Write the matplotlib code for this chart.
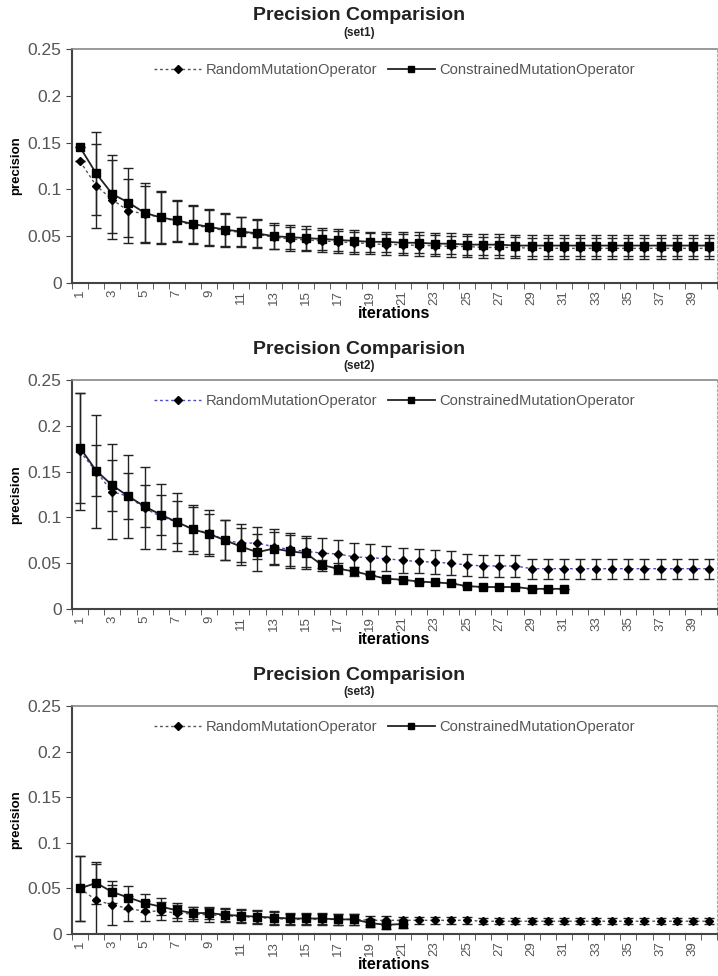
import numpy as np
import matplotlib
matplotlib.use("Agg")
import matplotlib.pyplot as plt
from matplotlib.lines import Line2D

plt.rcParams['font.family'] = ['Liberation Sans', 'DejaVu Sans']

iterations = list(range(1, 41))
tick_labels = [str(i) for i in range(1, 41, 2)]

# set1
set1_random = [0.130, 0.104, 0.089, 0.077, 0.074, 0.070, 0.066, 0.062, 0.059, 0.056,
               0.054, 0.052, 0.049, 0.047, 0.046, 0.045, 0.044, 0.043, 0.042, 0.041,
               0.041, 0.040, 0.040, 0.039, 0.039, 0.038, 0.038, 0.038, 0.037, 0.037,
               0.037, 0.037, 0.037, 0.037, 0.037, 0.037, 0.037, 0.037, 0.037, 0.037]
set1_random_err = [0.0, 0.045, 0.042, 0.034, 0.030, 0.028, 0.022, 0.020, 0.019, 0.018,
                   0.016, 0.015, 0.013, 0.013, 0.012, 0.012, 0.012, 0.012, 0.011, 0.011,
                   0.011, 0.011, 0.011, 0.011, 0.011, 0.011, 0.011, 0.011, 0.011, 0.011,
                   0.011, 0.011, 0.011, 0.011, 0.011, 0.011, 0.011, 0.011, 0.011, 0.011]
set1_constr = [0.145, 0.117, 0.095, 0.086, 0.075, 0.070, 0.067, 0.063, 0.060, 0.057,
               0.055, 0.053, 0.050, 0.049, 0.048, 0.047, 0.046, 0.045, 0.044, 0.044,
               0.043, 0.043, 0.042, 0.042, 0.041, 0.041, 0.041, 0.040, 0.040, 0.040,
               0.040, 0.040, 0.040, 0.040, 0.040, 0.040, 0.040, 0.040, 0.040, 0.040]
set1_constr_err = [0.0, 0.044, 0.042, 0.037, 0.032, 0.027, 0.022, 0.020, 0.019, 0.018,
                   0.016, 0.015, 0.014, 0.013, 0.013, 0.012, 0.012, 0.012, 0.011, 0.011,
                   0.011, 0.011, 0.011, 0.011, 0.011, 0.011, 0.011, 0.011, 0.011, 0.011,
                   0.011, 0.011, 0.011, 0.011, 0.011, 0.011, 0.011, 0.011, 0.011, 0.011]

# set2
set2_random = [0.172, 0.150, 0.128, 0.123, 0.110, 0.101, 0.095, 0.087, 0.083, 0.075,
               0.072, 0.072, 0.068, 0.065, 0.063, 0.061, 0.060, 0.057, 0.056, 0.055,
               0.053, 0.052, 0.051, 0.050, 0.048, 0.047, 0.047, 0.047, 0.044, 0.044,
               0.044, 0.044, 0.044, 0.044, 0.044, 0.044, 0.044, 0.044, 0.044, 0.044]
set2_random_err = [0.064, 0.062, 0.052, 0.045, 0.045, 0.035, 0.032, 0.027, 0.025, 0.022,
                   0.021, 0.017, 0.019, 0.018, 0.017, 0.016, 0.015, 0.015, 0.015, 0.014,
                   0.014, 0.013, 0.013, 0.013, 0.012, 0.012, 0.012, 0.012, 0.011, 0.011,
                   0.011, 0.011, 0.011, 0.011, 0.011, 0.011, 0.011, 0.011, 0.011, 0.011]
set2_constr = [0.176, 0.151, 0.135, 0.123, 0.112, 0.103, 0.095, 0.087, 0.082, 0.075,
               0.068, 0.062, 0.066, 0.063, 0.061, 0.048, 0.044, 0.041, 0.037, 0.033,
               0.032, 0.030, 0.029, 0.028, 0.025, 0.024, 0.024, 0.024, 0.022, 0.022,
               0.022]
set2_constr_err = [0.060, 0.028, 0.028, 0.025, 0.023, 0.022, 0.023, 0.024, 0.022, 0.022,
                   0.020, 0.020, 0.018, 0.018, 0.017, 0.006, 0.006, 0.005, 0.0, 0.0,
                   0.0, 0.0, 0.0, 0.0, 0.0, 0.0, 0.0, 0.0, 0.0, 0.0,
                   0.0]

# set3
set3_random = [0.050, 0.037, 0.032, 0.028, 0.025, 0.025, 0.023, 0.022, 0.021, 0.020,
               0.019, 0.018, 0.017, 0.016, 0.016, 0.016, 0.016, 0.016, 0.015, 0.015,
               0.015, 0.015, 0.015, 0.015, 0.015, 0.014, 0.014, 0.014, 0.014, 0.014,
               0.014, 0.014, 0.014, 0.014, 0.014, 0.014, 0.014, 0.014, 0.014, 0.014]
set3_random_err = [0.036, 0.040, 0.022, 0.014, 0.011, 0.010, 0.009, 0.008, 0.008, 0.007,
                   0.007, 0.007, 0.007, 0.006, 0.006, 0.006, 0.006, 0.006, 0.005, 0.005,
                   0.004, 0.004, 0.004, 0.004, 0.004, 0.003, 0.003, 0.003, 0.003, 0.003,
                   0.003, 0.003, 0.003, 0.003, 0.003, 0.003, 0.003, 0.003, 0.003, 0.003]
set3_constr = [0.050, 0.056, 0.046, 0.040, 0.034, 0.030, 0.026, 0.023, 0.023, 0.021,
               0.020, 0.019, 0.018, 0.017, 0.017, 0.017, 0.016, 0.016, 0.012, 0.010,
               0.011]
set3_constr_err = [0.036, 0.023, 0.012, 0.013, 0.010, 0.009, 0.008, 0.007, 0.007, 0.007,
                   0.007, 0.007, 0.007, 0.006, 0.006, 0.006, 0.006, 0.006, 0.004, 0.004,
                   0.004]


def plot_panel(ax, rnd, rnd_err, con, con_err, rnd_color):
    xr = iterations[:len(rnd)]
    xc = iterations[:len(con)]
    ax.errorbar(xr, rnd, yerr=rnd_err, fmt='none', ecolor='#222222',
                elinewidth=1.0, capsize=3.5, capthick=1.0, zorder=2)
    ax.errorbar(xc, con, yerr=con_err, fmt='none', ecolor='#222222',
                elinewidth=1.0, capsize=3.5, capthick=1.0, zorder=2)
    ax.plot(xr, rnd, linestyle=(0, (2, 2)), color=rnd_color, lw=1.0,
            marker='D', ms=4.2, mfc='black', mec='black', zorder=3)
    ax.plot(xc, con, linestyle='-', color='#222222', lw=1.3,
            marker='s', ms=5.8, mfc='black', mec='black', zorder=4)

    ax.set_xlim(0.5, 40.5)
    ax.set_ylim(0, 0.25)
    ax.set_yticks([0, 0.05, 0.1, 0.15, 0.2, 0.25])
    ax.set_yticklabels(['0', '0.05', '0.1', '0.15', '0.2', '0.25'])
    ax.tick_params(axis='y', labelsize=12.5, labelcolor='#555555', length=4,
                   color='#444444', direction='out')
    ax.set_xticks(list(range(1, 41, 2)))
    ax.set_xticklabels(tick_labels, rotation=90)
    ax.set_xticks(np.arange(0.5, 41, 1.0), minor=True)
    ax.tick_params(axis='x', which='major', length=0, labelsize=9.5,
                   labelcolor='#555555', pad=5)
    ax.tick_params(axis='x', which='minor', length=4, color='#444444',
                   direction='out')

    for side in ['left', 'bottom']:
        ax.spines[side].set_color('#444444')
        ax.spines[side].set_linewidth(1.5)
    ax.spines['top'].set_color('#888888')
    ax.spines['top'].set_linewidth(1.2)
    ax.spines['right'].set_color('#aaaaaa')
    ax.spines['right'].set_linestyle((0, (2, 2)))

    ax.set_ylabel('precision', fontsize=9.5, fontweight='bold',
                  family=['Liberation Sans Narrow', 'Liberation Sans'], labelpad=4)
    ax.set_xlabel('iterations', fontsize=11.5, fontweight='bold', labelpad=1)

    handles = [
        Line2D([0], [0], linestyle=(0, (2, 2)), color=rnd_color, lw=1.0,
               marker='D', ms=4.2, mfc='black', mec='black'),
        Line2D([0], [0], linestyle='-', color='#222222', lw=1.3,
               marker='s', ms=5, mfc='black', mec='black'),
    ]
    leg = ax.legend(handles, ['RandomMutationOperator', 'ConstrainedMutationOperator'],
                    loc='upper center', bbox_to_anchor=(0.5, 0.995), ncol=2,
                    frameon=False, fontsize=10.6, handlelength=3.2,
                    columnspacing=0.7, handletextpad=0.3)
    for t in leg.get_texts():
        t.set_color('#555555')


def main():
    fig = plt.figure(figsize=(7.18, 9.76), dpi=100)
    W, H = 718.0, 976.0
    panels = [
        ('(set1)', set1_random, set1_random_err, set1_constr, set1_constr_err, '#555555', 49, 283, 15, 33),
        ('(set2)', set2_random, set2_random_err, set2_constr, set2_constr_err, '#4a4ad0', 380, 609, 349, 366),
        ('(set3)', set3_random, set3_random_err, set3_constr, set3_constr_err, '#555555', 706, 934, 675, 692),
    ]
    for tag, rnd, rnd_err, con, con_err, col, top, bot, ty, sy in panels:
        ax = fig.add_axes([72 / W, 1 - bot / H, 645 / W, (bot - top) / H])
        plot_panel(ax, rnd, rnd_err, con, con_err, col)
        fig.text(359 / W, 1 - ty / H, 'Precision Comparision', ha='center',
                 va='center', fontsize=14, fontweight='bold', color='#222222')
        fig.text(359 / W, 1 - sy / H, tag, ha='center', va='center',
                 fontsize=8.5, fontweight='bold', color='#222222')

    fig.savefig('out.png', dpi=100)
    plt.close(fig)


if __name__ == "__main__":
    main()
